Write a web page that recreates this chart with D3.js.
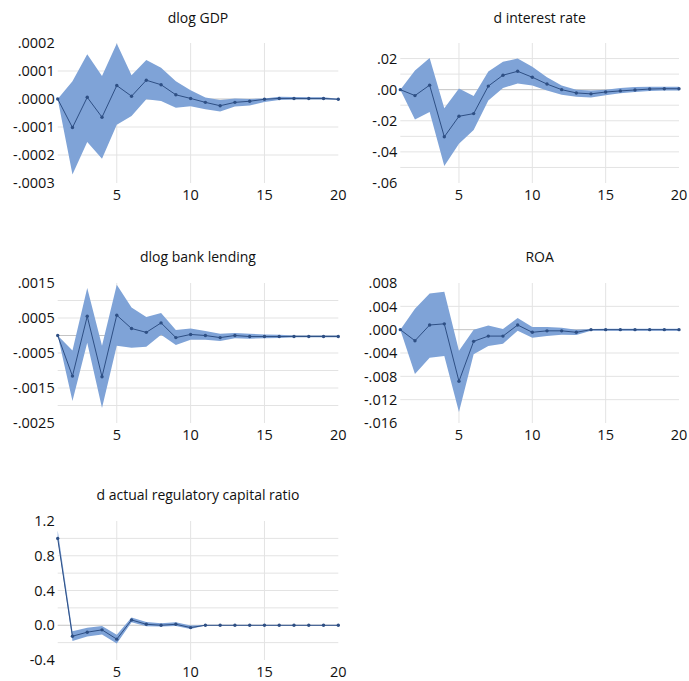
<!DOCTYPE html>
<html>
<head>
<meta charset="utf-8">
<script src="https://cdn.jsdelivr.net/npm/d3@7"></script>
<style>
  html, body { margin: 0; padding: 0; background: #fff; }
  svg text { font-family: "Open Sans", "Noto Sans", sans-serif; fill: #111; }
</style>
</head>
<body>
<svg id="chart" width="689" height="681"></svg>
<script>
// ---------- data ----------
const periods = d3.range(1, 21);

const gdpLine  = [0, -1.02e-4, 0.06e-4, -0.65e-4, 0.48e-4, 0.10e-4, 0.67e-4, 0.51e-4, 0.15e-4, 0.02e-4, -0.12e-4, -0.24e-4, -0.12e-4, -0.08e-4, -0.01e-4, 0.02e-4, 0.02e-4, 0.02e-4, 0.02e-4, -0.01e-4];
const gdpUpper = [0, 0.63e-4, 1.60e-4, 0.82e-4, 1.98e-4, 0.85e-4, 1.39e-4, 1.12e-4, 0.63e-4, 0.31e-4, 0.05e-4, -0.04e-4, 0.02e-4, 0.00e-4, 0.02e-4, 0.08e-4, 0.07e-4, 0.06e-4, 0.06e-4, 0.01e-4];
const gdpLower = [0, -2.70e-4, -1.54e-4, -2.13e-4, -0.92e-4, -0.61e-4, -0.01e-4, -0.07e-4, -0.31e-4, -0.26e-4, -0.37e-4, -0.45e-4, -0.27e-4, -0.23e-4, -0.11e-4, -0.04e-4, -0.02e-4, -0.02e-4, -0.02e-4, -0.03e-4];

const irLine  = [0, -0.0038, 0.0029, -0.0303, -0.0171, -0.0154, 0.0023, 0.0093, 0.0118, 0.0080, 0.0036, 0.0000, -0.0021, -0.0027, -0.0015, -0.0008, -0.0002, 0.0004, 0.0006, 0.0006];
const irUpper = [0, 0.0124, 0.0204, -0.0120, 0.0008, -0.0040, 0.0116, 0.0179, 0.0200, 0.0147, 0.0080, 0.0027, 0.0000, -0.0006, 0.0000, 0.0011, 0.0017, 0.0019, 0.0019, 0.0019];
const irLower = [0, -0.0192, -0.0143, -0.0490, -0.0347, -0.0259, -0.0069, 0.0011, 0.0040, 0.0027, -0.0006, -0.0032, -0.0046, -0.0050, -0.0036, -0.0023, -0.0015, -0.0008, -0.0006, -0.0006];

const lendLine  = [0, -0.00116, 0.00055, -0.00118, 0.00058, 0.00020, 0.00009, 0.00036, -0.00006, 0.00003, 0.00000, -0.00006, 0.00000, -0.00003, -0.00003, -0.00003, -0.00003, -0.00003, -0.00003, -0.00003];
const lendUpper = [0, -0.00043, 0.00136, -0.00029, 0.00145, 0.00080, 0.00053, 0.00064, 0.00016, 0.00020, 0.00013, 0.00005, 0.00007, 0.00005, 0.00003, 0.00002, 0.00000, 0.00000, 0.00000, 0.00000];
const lendLower = [0, -0.00187, -0.00021, -0.00207, -0.00029, -0.00035, -0.00032, 0.00002, -0.00027, -0.00012, -0.00012, -0.00016, -0.00008, -0.00009, -0.00008, -0.00007, -0.00005, -0.00005, -0.00005, -0.00005];

const roaLine  = [0, -0.0019, 0.0008, 0.0010, -0.00885, -0.0020, -0.0011, -0.0011, 0.0008, -0.00045, -0.0002, -0.0002, -0.00045, 0, 0, 0, 0, 0, 0, 0];
const roaUpper = [0, 0.0036, 0.0062, 0.0065, -0.0036, 0.0000, 0.0007, 0.0001, 0.0020, 0.00045, 0.00045, 0.00034, 0.0000, 0.0001, 0.00017, 0.00017, 0.00017, 0.00017, 0.00017, 0.00017];
const roaLower = [0, -0.0076, -0.0048, -0.0045, -0.0141, -0.0042, -0.0028, -0.0024, -0.0002, -0.0014, -0.0011, -0.00085, -0.0009, -0.00017, -0.00017, -0.00017, -0.00017, -0.00017, -0.00017, -0.00017];

const capLine  = [1.0, -0.126, -0.080, -0.053, -0.160, 0.061, 0.011, 0.000, 0.011, -0.027, 0, 0, 0, 0, 0, 0, 0, 0, 0, 0];
const capUpper = [1.09, -0.069, -0.030, -0.008, -0.110, 0.088, 0.038, 0.023, 0.034, -0.004, 0.004, 0.004, 0.004, 0.004, 0.004, 0.004, 0.004, 0.004, 0.004, 0.004];
const capLower = [0.99, -0.180, -0.130, -0.107, -0.210, 0.034, -0.011, -0.015, -0.008, -0.042, -0.004, -0.004, -0.004, -0.004, -0.004, -0.004, -0.004, -0.004, -0.004, -0.004];

const xTicks = [5, 10, 15, 20];

const gdpTicks  = [-0.0003, -0.0002, -0.0001, 0, 0.0001, 0.0002];
const gdpLabels = ["-.0003", "-.0002", "-.0001", ".0000", ".0001", ".0002"];
const irTicks   = [-0.06, -0.04, -0.02, 0, 0.02];
const irLabels  = ["-.06", "-.04", "-.02", ".00", ".02"];
const lendTicks = [-0.0025, -0.0015, -0.0005, 0.0005, 0.0015];
const lendLabels= ["-.0025", "-.0015", "-.0005", ".0005", ".0015"];
const roaTicks  = [-0.016, -0.012, -0.008, -0.004, 0, 0.004, 0.008];
const roaLabels = ["-.016", "-.012", "-.008", "-.004", ".000", ".004", ".008"];
const capTicks  = [-0.4, 0, 0.4, 0.8, 1.2];
const capLabels = ["-0.4", "0.0", "0.4", "0.8", "1.2"];

const panels = [
  { title: "dlog GDP", line: gdpLine, upper: gdpUpper, lower: gdpLower,
    domain: [-0.0003, 0.0002], grid: 0.0001, ticks: gdpTicks, labels: gdpLabels,
    x0: 57.7, x1: 338.3, top: 43, bottom: 183, titleY: 18 },
  { title: "d interest rate", line: irLine, upper: irUpper, lower: irLower,
    domain: [-0.06, 0.03], grid: 0.01, ticks: irTicks, labels: irLabels,
    x0: 400.3, x1: 679, top: 43, bottom: 183, titleY: 18 },
  { title: "dlog bank lending", line: lendLine, upper: lendUpper, lower: lendLower,
    domain: [-0.0025, 0.0015], grid: 0.0005, ticks: lendTicks, labels: lendLabels,
    x0: 57.7, x1: 338.3, top: 283, bottom: 423, titleY: 257 },
  { title: "ROA", line: roaLine, upper: roaUpper, lower: roaLower,
    domain: [-0.016, 0.008], grid: 0.004, ticks: roaTicks, labels: roaLabels,
    x0: 400.3, x1: 679, top: 283, bottom: 423, titleY: 257 },
  { title: "d actual regulatory capital ratio", line: capLine, upper: capUpper, lower: capLower,
    domain: [-0.4, 1.2], grid: 0.2, ticks: capTicks, labels: capLabels,
    x0: 57.7, x1: 338.3, top: 521, bottom: 660, titleY: 495 }
];

// ---------- drawing ----------
const svg = d3.select("#chart");
svg.append("rect").attr("width", 689).attr("height", 681).attr("fill", "#fff");

panels.forEach(p => {
  const x = d3.scaleLinear().domain([1, 20]).range([p.x0, p.x1]);
  const y = d3.scaleLinear().domain(p.domain).range([p.bottom, p.top]);
  const g = svg.append("g");

  // horizontal gridlines (interior only)
  const n = Math.round((p.domain[1] - p.domain[0]) / p.grid);
  const gridVals = d3.range(1, n).map(i => p.domain[0] + i * p.grid);
  g.selectAll(".hg").data(gridVals.filter(v => Math.abs(v) > 1e-12)).join("line")
    .attr("x1", p.x0).attr("x2", p.x1)
    .attr("y1", d => y(d)).attr("y2", d => y(d))
    .attr("stroke", "#e3e3e3").attr("stroke-width", 1);

  // vertical gridlines
  g.selectAll(".vg").data(xTicks.filter(t => t < 20)).join("line")
    .attr("x1", d => x(d)).attr("x2", d => x(d))
    .attr("y1", p.top).attr("y2", p.bottom)
    .attr("stroke", "#e3e3e3").attr("stroke-width", 1);

  // zero line
  g.append("line")
    .attr("x1", p.x0).attr("x2", p.x1)
    .attr("y1", y(0)).attr("y2", y(0))
    .attr("stroke", "#c4c4c4").attr("stroke-width", 1);

  // band
  const area = d3.area()
    .x((d, i) => x(periods[i]))
    .y0((d, i) => y(p.lower[i]))
    .y1((d, i) => y(p.upper[i]));
  g.append("path").datum(p.line).attr("d", area)
    .attr("fill", "#7fa3d7").attr("stroke", "none");

  // line
  const line = d3.line()
    .x((d, i) => x(periods[i]))
    .y(d => y(d));
  g.append("path").datum(p.line).attr("d", line)
    .attr("fill", "none").attr("stroke", "#2e4f84").attr("stroke-width", 1);

  g.selectAll(".pt").data(p.line).join("circle")
    .attr("cx", (d, i) => x(periods[i])).attr("cy", d => y(d))
    .attr("r", 1.7).attr("fill", "#2e4f84");

  // y tick labels
  g.selectAll(".yl").data(p.ticks).join("text")
    .attr("x", p.x0 - 3).attr("y", d => y(d)).attr("dy", "0.36em")
    .attr("text-anchor", "end").attr("font-size", 14.5)
    .text((d, i) => p.labels[i]);

  // x tick labels
  g.selectAll(".xl").data(xTicks).join("text")
    .attr("x", d => x(d)).attr("y", p.bottom + 12).attr("dy", "0.36em")
    .attr("text-anchor", "middle").attr("font-size", 14.5)
    .text(d => d);

  // title
  g.append("text")
    .attr("x", (p.x0 + p.x1) / 2).attr("y", p.titleY).attr("dy", "0.36em")
    .attr("text-anchor", "middle").attr("font-size", 14)
    .text(p.title);
});
</script>
</body>
</html>
